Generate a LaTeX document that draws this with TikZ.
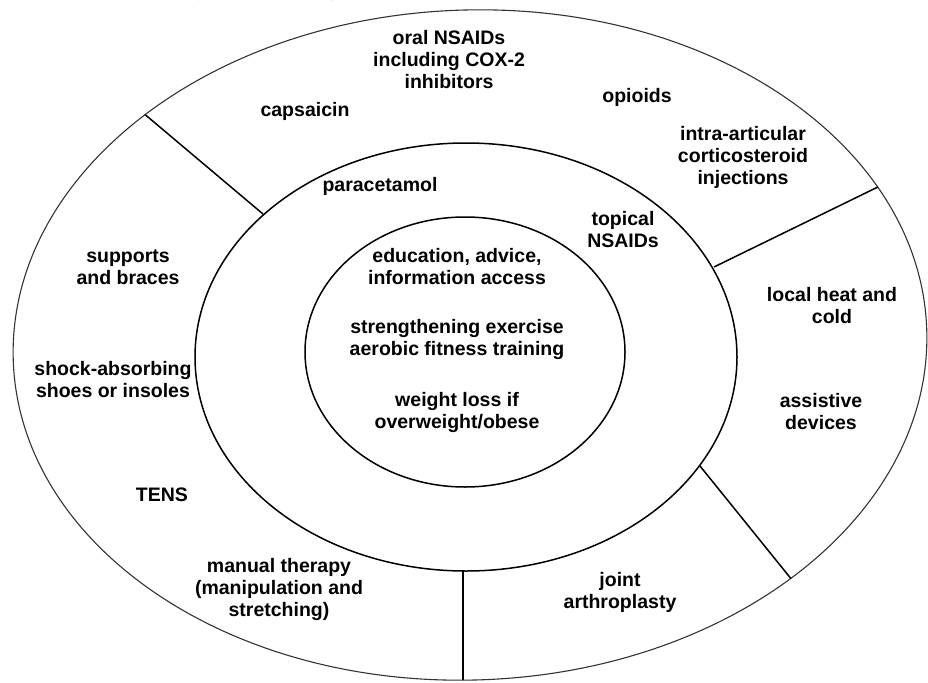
\documentclass[tikz,border=0pt]{standalone}
\usepackage{fontspec}
\setmainfont{Liberation Sans}
\begin{document}
\begin{tikzpicture}[x=1pt,y=-1pt,
  lbl/.style={align=center,inner sep=0pt,font=\bfseries\fontsize{19.5}{22}\selectfont},
  outerring/.style={draw=black!80,line width=1.1pt},
  ring/.style={draw=black,line width=1.5pt},
  divider/.style={draw=black,line width=1.5pt}]
\useasboundingbox (0,0) rectangle (928,682);
\clip (0,0) rectangle (928,682);
% rings
\draw[outerring,rotate around={2:(470,345)}] (470,345) ellipse [x radius=457, y radius=335];
\draw[ring] (466,357) ellipse [x radius=271, y radius=214];
\draw[ring] (465,352) ellipse [x radius=160, y radius=135];
% divider end points (outer ends are cut at the outer ring)
\coordinate (d1a) at (110,85);  \coordinate (d1b) at (263,214);
\coordinate (d2a) at (925,164); \coordinate (d2b) at (714,267);
\coordinate (d3a) at (700,466); \coordinate (d3b) at (830,627);
\coordinate (d4a) at (463,571); \coordinate (d4b) at (463,700);
\begin{scope}
  \clip[rotate around={2:(470,345)}] (470,345) ellipse [x radius=457, y radius=335];
  \draw[divider] (d1a) -- (d1b);
  \draw[divider] (d2a) -- (d2b);
  \draw[divider] (d3a) -- (d3b);
  \draw[divider] (d4a) -- (d4b);
\end{scope}
% cut-off title fragments
\node[lbl,anchor=base] (pl) at (198,-3) {(};
\node[lbl,anchor=base] (pr) at (334,-3) {)};
% labels
\node[lbl] (oral) at (449,60) {oral NSAIDs\\including COX-2\\inhibitors};
\node[lbl] (caps) at (305,111) {capsaicin};
\node[lbl] (opi) at (637,97) {opioids};
\node[lbl] (intra) at (743,157) {intra-articular\\corticosteroid\\injections};
\node[lbl] (para) at (380,186) {paracetamol};
\node[lbl] (top) at (623,230) {topical\\NSAIDs};
\node[lbl] (edu) at (457,267) {education, advice,\\information access};
\node[lbl] (str) at (457,339) {strengthening exercise\\aerobic fitness training};
\node[lbl] (wl) at (457,412) {weight loss if\\overweight/obese};
\node[lbl] (sup) at (128,267) {supports\\and braces};
\node[lbl] (shock) at (113,380) {shock-absorbing\\shoes or insoles};
\node[lbl] (heat) at (832,306) {local heat and\\cold};
\node[lbl] (assist) at (821,412) {assistive\\devices};
\node[lbl] (tens) at (162,495) {TENS};
\node[lbl] (man) at (279,589) {manual therapy\\(manipulation and\\stretching)};
\node[lbl] (joint) at (620,592) {joint\\arthroplasty};
\end{tikzpicture}
\end{document}
